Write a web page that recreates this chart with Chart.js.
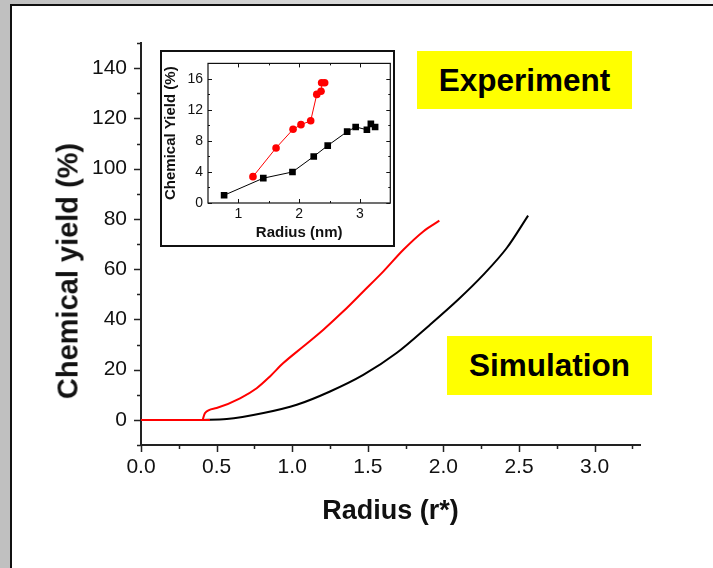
<!DOCTYPE html>
<html>
<head>
<meta charset="utf-8">
<script src="https://cdn.jsdelivr.net/npm/chart.js@4.4.1/dist/chart.umd.min.js"></script>
<style>
    html, body { margin: 0; padding: 0; background: #fff; }
    #wrap { position: relative; width: 713px; height: 568px; overflow: hidden; font-family: 'Liberation Sans', Arial, sans-serif; }
    #main { position: absolute; left: 0; top: 0; }
    #inset { position: absolute; left: 160px; top: 50px; }
    .tag { position: absolute; background: #ffff00; color: #000; font-weight: bold; font-size: 31.5px;
           display: flex; align-items: center; justify-content: center; }
    #ytitle { position: absolute; left: 68px; top: 271px; transform: translate(-50%, -50%) rotate(-90deg);
              white-space: nowrap; font-weight: bold; font-size: 29px; color: #111; }
</style>
</head>
<body>
<div id="wrap">
    <canvas id="main" width="713" height="568"></canvas>
    <canvas id="inset" width="235" height="197"></canvas>
    <div id="ytitle">Chemical yield (%)</div>
    <div class="tag" style="left:417px;top:51px;width:215px;height:58px;">Experiment</div>
    <div class="tag" style="left:447px;top:336px;width:205px;height:59px;">Simulation</div>
</div>
<script>
// Courbes de simulation (grand graphique), rayon r* / rendement %
const simRedFlatX = [0, 0.456];
const simRedFlatY = [0, 0];
const simRedX = [0.408, 0.423, 0.50, 0.655, 0.765, 0.853, 0.941, 1.073, 1.206, 1.338, 1.47, 1.603, 1.735, 1.867, 1.973];
const simRedY = [0, 2.7, 4.7, 8.6, 12.6, 17.3, 22.6, 29.2, 35.9, 43.2, 51.1, 59.1, 67.7, 75.0, 79.3];
const simBlackX = [0.40, 0.567, 0.81, 1.03, 1.25, 1.47, 1.69, 1.91, 2.10, 2.26, 2.42, 2.56];
const simBlackY = [0, 0.3, 2.7, 6.0, 11.3, 17.9, 26.6, 37.8, 48.0, 57.5, 68.5, 81.3];

// Points expérimentaux (encart), rayon nm / rendement %
const expRedX = [1.24, 1.62, 1.90, 2.03, 2.19, 2.29, 2.36, 2.37, 2.42];
const expRedY = [3.4, 7.1, 9.5, 10.1, 10.6, 14.0, 14.4, 15.5, 15.5];
const expBlackX = [0.765, 1.41, 1.89, 2.24, 2.47, 2.79, 2.93, 3.115, 3.18, 3.25];
const expBlackY = [1.0, 3.2, 4.0, 6.0, 7.4, 9.2, 9.8, 9.45, 10.2, 9.8];

// Graduations
const mainXMajor = [0, 0.5, 1, 1.5, 2, 2.5, 3];
const mainXMinor = [0.25, 0.75, 1.25, 1.75, 2.25, 2.75, 3.25];
const mainYMajor = [0, 20, 40, 60, 80, 100, 120, 140];
const mainYMinor = [-10, 10, 30, 50, 70, 90, 110, 130, 150];
const insetXMajor = [1, 2, 3];
const insetXMinor = [1.5, 2.5];
const insetYMajor = [0, 4, 8, 12, 16];
const insetYMinor = [2, 6, 10, 14, 18];

Chart.defaults.font.family = "'Liberation Sans', Arial, sans-serif";
Chart.defaults.color = '#111';

const pts = (xs, ys) => xs.map((x, i) => ({ x: x, y: ys[i] }));
const setTicks = values => scale => { scale.ticks = values.map(v => ({ value: v })); };

// traits de graduation ; dir 1 = vers l'extérieur, -1 = vers l'intérieur
function marks(chart, id, values, len, dir, mirror) {
    const s = chart.scales[id];
    const a = chart.chartArea;
    const ctx = chart.ctx;
    ctx.beginPath();
    values.forEach(v => {
        const p = Math.round(s.getPixelForValue(v)) + 0.5;
        if (s.isHorizontal()) {
            ctx.moveTo(p, a.bottom); ctx.lineTo(p, a.bottom + dir * len);
            if (mirror) { ctx.moveTo(p, a.top); ctx.lineTo(p, a.top - dir * len); }
        } else {
            ctx.moveTo(a.left, p); ctx.lineTo(a.left - dir * len, p);
            if (mirror) { ctx.moveTo(a.right, p); ctx.lineTo(a.right + dir * len, p); }
        }
    });
    ctx.stroke();
}

const framePlugin = {
    id: 'frame',
    beforeDraw(chart) {
        const ctx = chart.ctx;
        ctx.save();
        const g = ctx.createLinearGradient(0, 0, chart.width, 0);
        g.addColorStop(0, '#c0c0c0');
        g.addColorStop(1, '#f4f4f4');
        ctx.fillStyle = g;
        ctx.fillRect(0, 0, chart.width, 4);
        ctx.fillStyle = '#c0c0c0';
        ctx.fillRect(0, 0, 10, chart.height);
        ctx.fillStyle = '#111';
        ctx.fillRect(10, 4, 2, chart.height - 4);
        ctx.fillRect(10, 4, chart.width - 10, 2);
        ctx.restore();
    },
    afterDraw(chart) {
        const ctx = chart.ctx;
        ctx.save();
        ctx.strokeStyle = '#222';
        ctx.lineWidth = 1.5;
        marks(chart, 'x', mainXMajor, 7, 1, false);
        marks(chart, 'x', mainXMinor, 4, 1, false);
        marks(chart, 'y', mainYMajor, 7, 1, false);
        marks(chart, 'y', mainYMinor, 4, 1, false);
        ctx.restore();
    }
};

const curve = (xs, ys, color) => ({
    data: pts(xs, ys), borderColor: color, borderWidth: 2, showLine: true,
    pointRadius: 0, cubicInterpolationMode: 'monotone'
});

new Chart(document.getElementById('main'), {
    type: 'scatter',
    data: {
        datasets: [
            curve(simRedFlatX, simRedFlatY, '#ff0000'),
            curve(simRedX, simRedY, '#ff0000'),
            curve(simBlackX, simBlackY, '#000000')
        ]
    },
    options: {
        responsive: false,
        animation: false,
        layout: { padding: { left: 0, top: 43, right: 73, bottom: 0 } },
        plugins: { legend: { display: false }, tooltip: { enabled: false } },
        scales: {
            x: {
                type: 'linear', min: 0, max: 3.3,
                afterBuildTicks: setTicks(mainXMajor),
                afterFit: s => { s.height = 123; },
                grid: { display: false, drawTicks: true, tickLength: 7 },
                border: { display: true, color: '#222', width: 2 },
                ticks: { padding: 3, font: { size: 21 }, callback: v => v.toFixed(1) },
                title: { display: true, text: 'Radius (r*)', color: '#111', font: { size: 27, weight: 'bold' }, padding: { top: 0, bottom: 40 } }
            },
            y: {
                type: 'linear', min: -10, max: 150,
                afterBuildTicks: setTicks(mainYMajor),
                afterFit: s => { s.width = 141; },
                grid: { display: false, drawTicks: true, tickLength: 8 },
                border: { display: true, color: '#222', width: 2 },
                ticks: { padding: 6, font: { size: 21 } }
            }
        }
    },
    plugins: [framePlugin]
});

const insetPlugin = {
    id: 'insetBox',
    afterDraw(chart) {
        const ctx = chart.ctx;
        const a = chart.chartArea;
        ctx.save();
        ctx.strokeStyle = '#111';
        ctx.lineWidth = 2;
        ctx.strokeRect(1, 1, chart.width - 2, chart.height - 2);
        ctx.lineWidth = 1.2;
        ctx.strokeRect(a.left, a.top, a.right - a.left, a.bottom - a.top);
        ctx.lineWidth = 1;
        marks(chart, 'x', insetXMajor, 4, -1, true);
        marks(chart, 'x', insetXMinor, 2, -1, true);
        marks(chart, 'y', insetYMajor, 4, -1, true);
        marks(chart, 'y', insetYMinor, 2, -1, true);
        ctx.restore();
    }
};

new Chart(document.getElementById('inset'), {
    type: 'scatter',
    data: {
        datasets: [
            { data: pts(expRedX, expRedY), borderColor: '#ff0000', backgroundColor: '#ff0000', borderWidth: 1, showLine: true,
              pointStyle: 'circle', pointRadius: 3.8, pointBorderWidth: 0 },
            { data: pts(expBlackX, expBlackY), borderColor: '#000000', backgroundColor: '#000000', borderWidth: 1, showLine: true,
              pointStyle: 'rect', pointRadius: 4.7, pointBorderWidth: 0 }
        ]
    },
    options: {
        responsive: false,
        animation: false,
        layout: { padding: { left: 0, top: 5, right: 4, bottom: 0 } },
        plugins: { legend: { display: false }, tooltip: { enabled: false } },
        scales: {
            x: {
                type: 'linear', min: 0.5, max: 3.5,
                afterBuildTicks: setTicks(insetXMajor),
                afterFit: s => { s.height = 44; },
                grid: { display: false, drawTicks: false },
                border: { display: false },
                ticks: { padding: 3, font: { size: 14 } },
                title: { display: true, text: 'Radius (nm)', color: '#111', font: { size: 15, weight: 'bold' }, padding: { top: 0, bottom: 5 } }
            },
            y: {
                type: 'linear', min: 0, max: 18,
                afterBuildTicks: setTicks(insetYMajor),
                afterFit: s => { s.width = 48; },
                grid: { display: false, drawTicks: false },
                border: { display: false },
                ticks: { padding: 5, font: { size: 14 } },
                title: { display: true, text: 'Chemical Yield (%)', color: '#111', font: { size: 15, weight: 'bold' }, padding: { top: 2, bottom: 0 } }
            }
        }
    },
    plugins: [insetPlugin]
});
</script>
</body>
</html>
